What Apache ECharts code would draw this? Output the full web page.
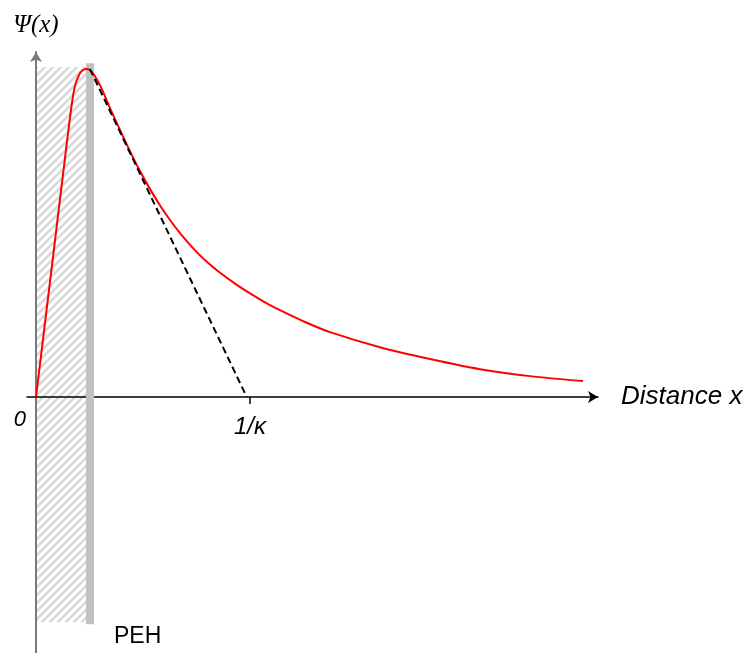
<!DOCTYPE html>
<html>
<head>
<meta charset="utf-8">
<script src="https://cdn.jsdelivr.net/npm/echarts@6/dist/echarts.min.js"></script>
<style>html,body{margin:0;padding:0;background:#fff}#c{width:747px;height:653px}</style>
</head>
<body>
<div id="c"></div>
<script>
// Potential curve Ψ(x) (x in units where 1/κ = 1, Ψ normalised to its peak)
const curveX = [0, 0.084, 0.140, 0.168, 0.182, 0.201, 0.220, 0.238, 0.262, 0.299, 0.346, 0.393, 0.439, 0.486, 0.533, 0.579, 0.626, 0.673, 0.720, 0.766, 0.813, 0.860, 0.930, 1.000, 1.070, 1.140, 1.257, 1.374, 1.607, 1.841, 2.075, 2.308, 2.556];
const curveY = [0, 0.451, 0.753, 0.896, 0.948, 0.982, 0.997, 1.000, 0.991, 0.951, 0.881, 0.814, 0.750, 0.689, 0.634, 0.585, 0.540, 0.500, 0.464, 0.432, 0.404, 0.379, 0.346, 0.316, 0.289, 0.265, 0.229, 0.198, 0.152, 0.116, 0.085, 0.064, 0.049];
// Tangent (dashed) line from the peak to 1/κ
const tangentX = [0.252, 0.985];
const tangentY = [1.0, 0.0];
// PEH hatched region and wall: [x0, x1, y0, y1]
const pehRegion = [0, 0.234, -0.686, 1.006];
const wallRegion = [0.234, 0.271, -0.692, 1.018];
// Axis tick values / labels
const xTickValues = [1];
const xLabelValues = [0, 1];
const xTickLabels = ['0', '1/κ'];

const hatch = document.createElement('canvas');
hatch.width = 8; hatch.height = 8;
const hc = hatch.getContext('2d');
hc.strokeStyle = '#d9d9d9';
hc.lineWidth = 2.6;
hc.beginPath();
hc.moveTo(-2, 10); hc.lineTo(10, -2);
hc.moveTo(-6, 6); hc.lineTo(6, -6);
hc.moveTo(2, 14); hc.lineTo(14, 2);
hc.stroke();

function rectItem(fill) {
  return function (params, api) {
    const p0 = api.coord([api.value(0), api.value(3)]);
    const p1 = api.coord([api.value(1), api.value(2)]);
    return {
      type: 'rect',
      shape: { x: p0[0], y: p0[1], width: p1[0] - p0[0], height: p1[1] - p0[1] },
      style: { fill: fill }
    };
  };
}

const labelOffsets = [[-16, 23], [0, 30]];
const labelStyles = [
  { fontFamily: 'Liberation Sans', fontStyle: 'italic', fontSize: 22, color: '#000000', opacity: 1 },
  { fontFamily: 'Liberation Sans', fontStyle: 'italic', fontSize: 24, color: '#000000', opacity: 1 }
];

const chart = echarts.init(document.getElementById('c'), null, { renderer: 'canvas' });
chart.setOption({
  animation: false,
  backgroundColor: '#ffffff',
  grid: { left: 27, right: 149, top: 52, bottom: 0, containLabel: false, outerBoundsMode: 'none' },
  xAxis: {
    type: 'value', min: -0.042, max: 2.626, z: 1.5,
    axisLine: { onZero: true, lineStyle: { color: '#000', width: 1.5 }, symbol: ['none', 'arrow'], symbolSize: [9, 10] },
    axisTick: { show: true, customValues: xTickValues, length: 7, inside: false, lineStyle: { color: '#000', width: 1.5 } },
    axisLabel: { show: false },
    splitLine: { show: false },
    name: 'Distance x', nameLocation: 'end', nameGap: 23,
    nameTextStyle: { fontFamily: 'Liberation Sans', fontStyle: 'italic', fontSize: 26, color: '#000' }
  },
  yAxis: {
    type: 'value', min: -0.780, max: 1.052, z: 1.5,
    axisLine: { onZero: true, lineStyle: { color: '#7a7a7a', width: 2 }, symbol: ['none', 'arrow'], symbolSize: [9, 10] },
    axisTick: { show: false }, axisLabel: { show: false }, splitLine: { show: false },
    name: 'Ψ(x)', nameLocation: 'end', nameGap: 14,
    nameTextStyle: { fontFamily: 'Liberation Serif', fontStyle: 'italic', fontSize: 25, color: '#000' }
  },
  series: [
    { type: 'custom', renderItem: rectItem({ image: hatch, repeat: 'repeat' }), data: [pehRegion], z: 1, silent: true },
    { type: 'custom', renderItem: rectItem('#c0c0c0'), data: [wallRegion], z: 2, silent: true },
    { type: 'line', data: curveX.map((x, i) => [x, curveY[i]]), smooth: 0.3, showSymbol: false,
      lineStyle: { color: '#ff0000', width: 2 }, z: 3 },
    { type: 'line', data: tangentX.map((x, i) => [x, tangentY[i]]), showSymbol: false,
      lineStyle: { color: '#000', width: 2, type: [7, 4] }, z: 4 },
    { type: 'scatter', symbolSize: 0, silent: true, z: 5, itemStyle: { opacity: 1 },
      data: xLabelValues.map((v, i) => ({
        value: [v, 0],
        label: Object.assign({ show: true, formatter: xTickLabels[i], position: labelOffsets[i], align: 'center', verticalAlign: 'middle' }, labelStyles[i])
      })) }
  ],
  graphic: [
    { type: 'text', left: 114, top: 625, style: { text: 'PEH', fontFamily: 'Liberation Sans', fontSize: 23, fill: '#000' } }
  ]
});
</script>
</body>
</html>
